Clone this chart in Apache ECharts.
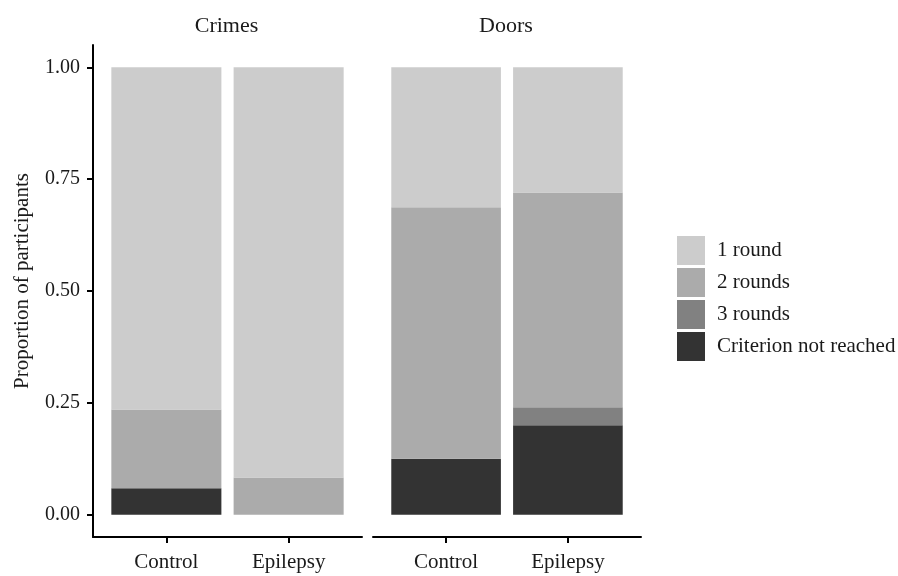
<!DOCTYPE html>
<html>
<head>
<meta charset="utf-8">
<script src="https://cdn.jsdelivr.net/npm/echarts@6/dist/echarts.min.js"></script>
<style>
  html, body { margin: 0; padding: 0; background: #ffffff; }
  #chart { width: 898px; height: 576px; }
</style>
</head>
<body>
<div id="chart"></div>
<script>
// Facets, groups and outcome levels
const facets = ['Crimes', 'Doors'];
const groups = ['Control', 'Epilepsy'];
const levels = ['1 round', '2 rounds', '3 rounds', 'Criterion not reached'];
const yTicks = [0, 0.25, 0.5, 0.75, 1];

// Proportion of participants per group (Control, Epilepsy)
const crimesOneRound = [0.765, 0.917];
const crimesTwoRounds = [0.176, 0.083];
const crimesThreeRounds = [0, 0];
const crimesNotReached = [0.059, 0];

const doorsOneRound = [0.3125, 0.28];
const doorsTwoRounds = [0.5625, 0.48];
const doorsThreeRounds = [0, 0.04];
const doorsNotReached = [0.125, 0.2];

const levelColors = {
  '1 round': '#cccccc',
  '2 rounds': '#ababab',
  '3 rounds': '#818181',
  'Criterion not reached': '#333333'
};

const facetValues = [
  { '1 round': crimesOneRound, '2 rounds': crimesTwoRounds, '3 rounds': crimesThreeRounds, 'Criterion not reached': crimesNotReached },
  { '1 round': doorsOneRound, '2 rounds': doorsTwoRounds, '3 rounds': doorsThreeRounds, 'Criterion not reached': doorsNotReached }
];

const FONT = 'Liberation Serif';
const TEXT = '#1a1a1a';
const panelLefts = [93, 373];
const panelWidths = [269, 268];
const panelTop = 45;
const panelHeight = 492;
// Discrete axis padding: 0.6 of a category unit on each side of the two bands
const expandUnits = 0.6;
const barFraction = 0.9;

const unitPx = panelWidths.map(w => w / (groups.length - 1 + 2 * expandUnits));
const axisLineStyle = { color: '#000000', width: 2 };

// Outer grids (0, 1) carry the axis lines and y scale; inner grids (2, 3) hold the bars
const grids = [];
facets.forEach((f, fi) => {
  grids.push({ left: panelLefts[fi], top: panelTop, width: panelWidths[fi], height: panelHeight });
});
facets.forEach((f, fi) => {
  const pad = unitPx[fi] * (expandUnits - 0.5);
  grids.push({ left: panelLefts[fi] + pad, top: panelTop, width: panelWidths[fi] - 2 * pad, height: panelHeight });
});

const xAxes = [];
const yAxes = [];
facets.forEach((f, fi) => {
  xAxes.push({
    type: 'value',
    gridIndex: fi,
    min: 0,
    max: 1,
    splitLine: { show: false },
    axisLine: { show: true, onZero: false, lineStyle: axisLineStyle },
    axisTick: { show: false },
    axisLabel: { show: false }
  });
  yAxes.push({
    type: 'value',
    gridIndex: fi,
    min: -0.05,
    max: 1.05,
    show: fi === 0,
    name: fi === 0 ? 'Proportion of participants' : '',
    nameLocation: 'middle',
    nameGap: 60,
    nameTextStyle: { fontFamily: FONT, fontSize: 21, color: TEXT, padding: [0, 0, 0, 20] },
    splitLine: { show: false },
    axisLine: { show: true, onZero: false, lineStyle: axisLineStyle },
    axisTick: { show: true, customValues: yTicks, length: 6, lineStyle: axisLineStyle },
    axisLabel: {
      customValues: yTicks,
      formatter: v => v.toFixed(2),
      fontFamily: FONT,
      fontSize: 20,
      color: TEXT,
      margin: 13
    }
  });
});
facets.forEach((f, fi) => {
  xAxes.push({
    type: 'category',
    gridIndex: 2 + fi,
    position: 'bottom',
    data: groups,
    axisLine: { show: false, onZero: false },
    axisTick: { show: true, alignWithLabel: true, length: 6, lineStyle: axisLineStyle },
    axisLabel: { fontFamily: FONT, fontSize: 21, color: TEXT, margin: 15 }
  });
  yAxes.push({
    type: 'value',
    gridIndex: 2 + fi,
    min: -0.05,
    max: 1.05,
    show: false
  });
});

// Stack from the bottom: not reached, 3 rounds, 2 rounds, 1 round
const stackOrder = levels.slice().reverse();

const series = [];
facets.forEach((facet, fi) => {
  stackOrder.forEach(level => {
    series.push({
      name: level,
      type: 'bar',
      stack: facet,
      xAxisIndex: 2 + fi,
      yAxisIndex: 2 + fi,
      barWidth: unitPx[fi] * barFraction,
      itemStyle: { color: levelColors[level] },
      emphasis: { disabled: true },
      data: facetValues[fi][level]
    });
  });
});

const chart = echarts.init(document.getElementById('chart'), null, { renderer: 'canvas' });

chart.setOption({
  animation: false,
  backgroundColor: '#ffffff',
  textStyle: { fontFamily: FONT },
  title: facets.map((f, fi) => ({
    text: f,
    left: panelLefts[fi] + panelWidths[fi] / 2 - 6,
    top: 10,
    textAlign: 'center',
    textStyle: { fontFamily: FONT, fontSize: 22, fontWeight: 'normal', color: TEXT }
  })),
  legend: {
    orient: 'vertical',
    left: 672,
    top: 231,
    itemWidth: 28,
    itemHeight: 29,
    itemGap: 3,
    selectedMode: false,
    data: levels,
    icon: 'rect',
    textStyle: { fontFamily: FONT, fontSize: 21, color: TEXT, padding: [0, 0, 0, 7] }
  },
  grid: grids,
  xAxis: xAxes,
  yAxis: yAxes,
  series: series
});
</script>
</body>
</html>
